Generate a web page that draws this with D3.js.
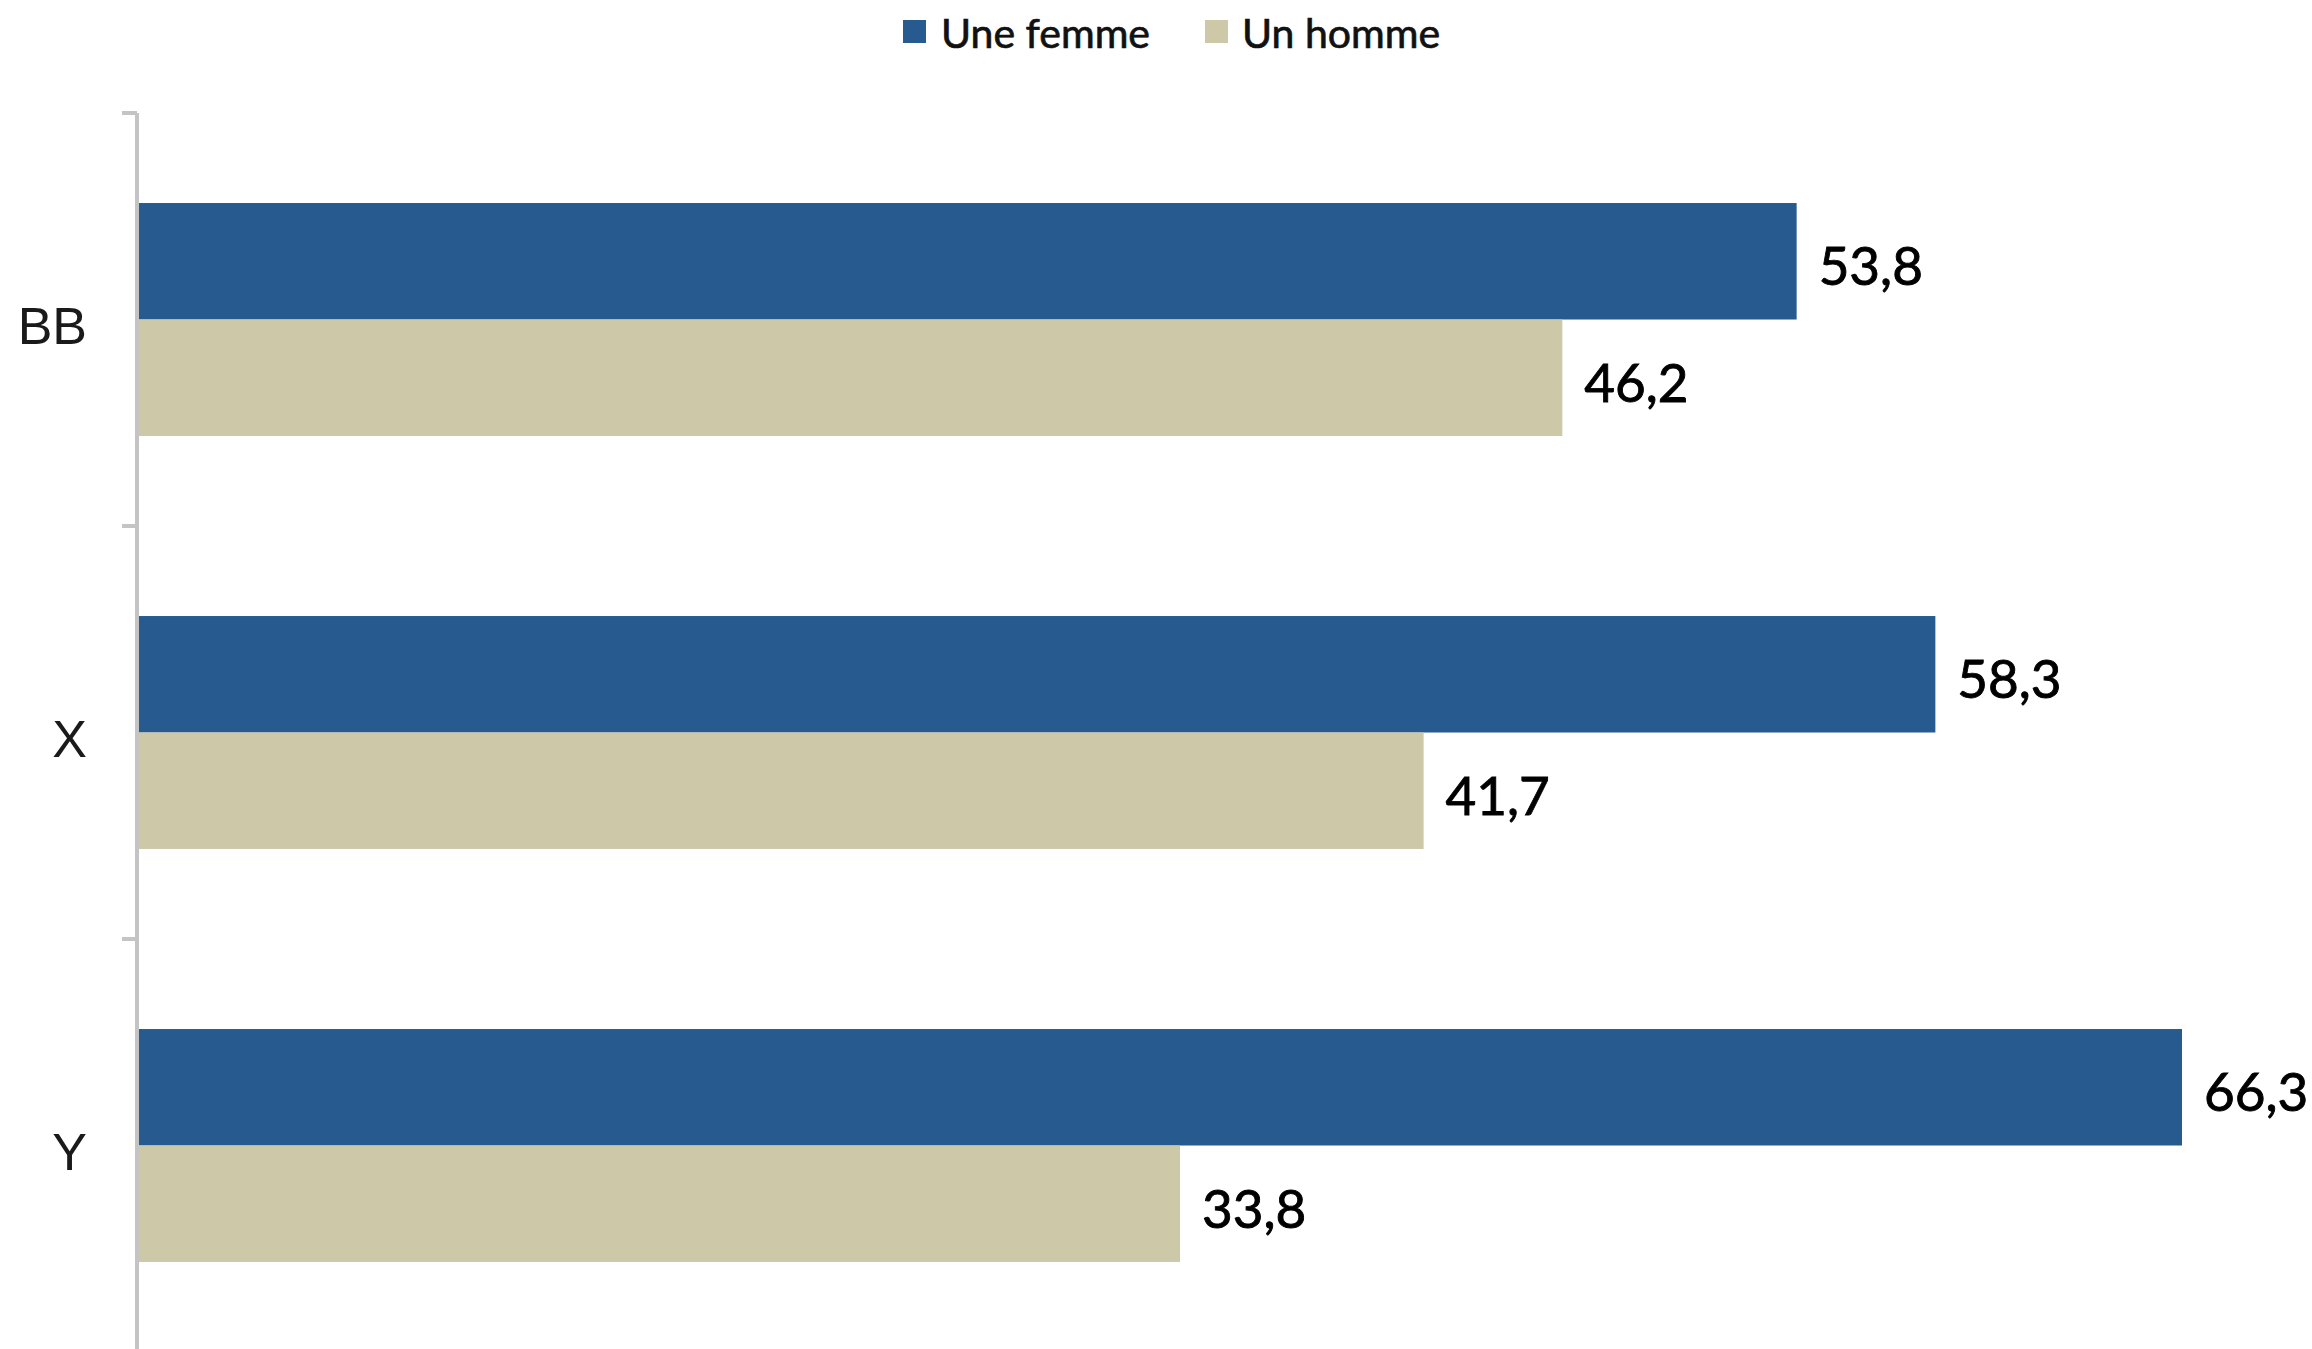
<!DOCTYPE html>
<html>
<head>
<meta charset="utf-8">
<script src="https://cdn.jsdelivr.net/npm/d3@7"></script>
<style>
  html, body { margin: 0; padding: 0; background: #ffffff; }
  svg { display: block; }
</style>
</head>
<body>
<svg id="chart" width="2312" height="1349"></svg>
<script>
// Categories and series
const categories = ["BB", "X", "Y"];
const seriesNames = ["Une femme", "Un homme"];
const femmeValues = [53.8, 58.3, 66.3];
const hommeValues = [46.2, 41.7, 33.8];
const seriesColors = ["#275a8f", "#ccc8a8"];

const rows = categories.map((c, i) => ({
  cat: c,
  values: [
    { series: seriesNames[0], value: femmeValues[i] },
    { series: seriesNames[1], value: hommeValues[i] }
  ]
}));

const svg = d3.select("#chart");

const axisX = 137;
const x = d3.scaleLinear().domain([0, 66.3]).range([axisX + 1, 2182]);
const y = d3.scaleBand().domain(categories).range([113, 1352]).paddingInner(0).paddingOuter(0);
const yInner = d3.scaleBand().domain(seriesNames).range([0, y.bandwidth()]).paddingInner(0).paddingOuter(0.773);
const color = d3.scaleOrdinal().domain(seriesNames).range(seriesColors);

const fmt = v => d3.format(".1f")(v).replace(".", ",");

// Bars
const groups = svg.append("g").selectAll("g")
  .data(rows)
  .join("g")
  .attr("transform", d => `translate(0,${y(d.cat)})`);

groups.selectAll("rect")
  .data(d => d.values)
  .join("rect")
  .attr("x", x(0))
  .attr("y", d => yInner(d.series))
  .attr("width", d => x(d.value) - x(0))
  .attr("height", yInner.bandwidth())
  .attr("fill", d => color(d.series));

// Value labels
groups.selectAll("text.val")
  .data(d => d.values)
  .join("text")
  .attr("class", "val")
  .attr("x", d => x(d.value) + 22)
  .attr("y", d => yInner(d.series) + yInner.bandwidth() / 2 + 24)
  .attr("font-family", "Lato, 'Open Sans', sans-serif")
  .attr("font-size", 53)
  .attr("fill", "#000000")
  .attr("stroke", "#000000")
  .attr("stroke-width", 0.9)
  .text(d => fmt(d.value));

// Vertical axis line with ticks at category boundaries
const axis = svg.append("g");
axis.append("line")
  .attr("x1", axisX).attr("x2", axisX)
  .attr("y1", y.range()[0]).attr("y2", y.range()[1])
  .attr("stroke", "#c4c4c4").attr("stroke-width", 4);

const boundaries = categories.map(c => y(c)).concat([y(categories[categories.length - 1]) + y.bandwidth()]);
axis.selectAll("line.tick")
  .data(boundaries)
  .join("line")
  .attr("class", "tick")
  .attr("x1", axisX - 15).attr("x2", axisX)
  .attr("y1", d => d).attr("y2", d => d)
  .attr("stroke", "#c4c4c4").attr("stroke-width", 4);

// Category labels
axis.selectAll("text.cat")
  .data(categories)
  .join("text")
  .attr("class", "cat")
  .attr("x", 87)
  .attr("y", d => y(d) + y.bandwidth() / 2 + 24)
  .attr("text-anchor", "end")
  .attr("font-family", "'Liberation Sans', Arial, sans-serif")
  .attr("font-size", 52)
  .attr("fill", "#1a1a1a")
  .text(d => d);

// Legend
const legendItems = [
  { name: seriesNames[0], sx: 903, tx: 941 },
  { name: seriesNames[1], sx: 1205, tx: 1242 }
];
const legend = svg.append("g");
legend.selectAll("rect")
  .data(legendItems)
  .join("rect")
  .attr("x", d => d.sx).attr("y", 20)
  .attr("width", 23).attr("height", 23)
  .attr("fill", d => color(d.name));
legend.selectAll("text")
  .data(legendItems)
  .join("text")
  .attr("x", d => d.tx).attr("y", 48)
  .attr("font-family", "Lato, 'Open Sans', sans-serif")
  .attr("font-size", 41)
  .attr("fill", "#111111")
  .attr("stroke", "#111111")
  .attr("stroke-width", 0.7)
  .text(d => d.name);
</script>
</body>
</html>
